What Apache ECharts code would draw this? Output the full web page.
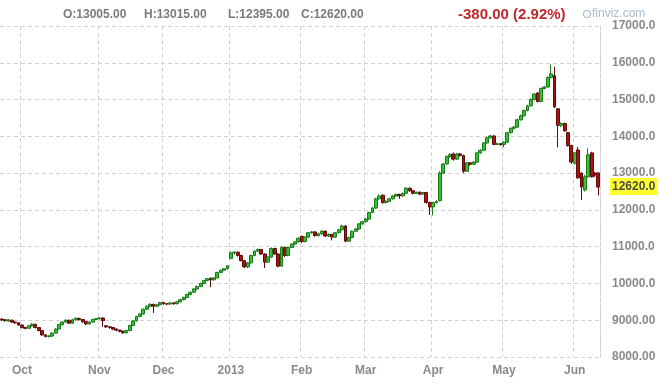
<!DOCTYPE html>
<html><head><meta charset="utf-8">
<script src="https://cdn.jsdelivr.net/npm/echarts@6/dist/echarts.min.js"></script>
<style>html,body{margin:0;padding:0;background:#fff}#c{width:672px;height:386px}</style>
</head><body><div id="c"></div>
<script>
// Month groups of daily bars (first group is late September, unlabeled)
const monthNames = ['Sep', 'Oct', 'Nov', 'Dec', '2013', 'Feb', 'Mar', 'Apr', 'May', 'Jun'];
const barsPerMonth = [6, 23, 19, 20, 21, 19, 20, 21, 21, 8];

// Daily candles: [open, close, low, high]
const ohlc = [
  // Sep
  [9030,9010,8980,9060],[9010,8990,8960,9030],[8980,9010,8960,9030],[9000,8950,8930,9020],[8950,8930,8900,8970],[8930,8870,8850,8950],
  // Oct
  [8870,8800,8780,8890],[8800,8780,8750,8820],[8780,8850,8760,8870],[8850,8890,8830,8920],[8890,8800,8780,8900],
  [8800,8720,8700,8810],[8720,8600,8580,8730],[8600,8560,8530,8620],[8560,8570,8530,8600],[8570,8650,8550,8670],
  [8650,8760,8640,8780],[8760,8880,8750,8900],[8880,8950,8860,8970],[8950,9000,8930,9020],[9000,8920,8900,9010],
  [8920,9010,8900,9040],[9010,9050,8990,9080],[9050,9020,8990,9070],[9020,8960,8930,9030],[8960,8900,8870,8970],
  [8900,8950,8880,8970],[8950,9020,8930,9040],[9020,9040,9000,9060],
  // Nov
  [9040,9060,9020,9080],[9060,8990,8820,9080],[8850,8820,8790,8860],[8820,8800,8770,8840],[8800,8760,8730,8810],
  [8760,8730,8700,8780],[8730,8700,8670,8740],[8700,8660,8630,8710],[8660,8720,8640,8740],[8720,8860,8700,8870],
  [8860,8980,8850,9000],[8980,9100,8970,9120],[9100,9170,9080,9190],[9170,9300,9160,9320],[9300,9380,9280,9400],
  [9380,9430,9360,9460],[9430,9380,9200,9450],[9380,9420,9360,9440],[9420,9480,9400,9500],
  // Dec
  [9480,9450,9420,9500],[9450,9440,9410,9470],[9440,9470,9420,9490],[9470,9450,9420,9490],[9450,9500,9430,9520],
  [9500,9560,9490,9580],[9560,9620,9540,9640],[9620,9700,9600,9720],[9700,9760,9680,9780],[9760,9850,9740,9870],
  [9850,9920,9830,9940],[9920,10000,9900,10020],[10000,10080,9980,10100],[10080,10130,10060,10150],[10140,10100,9900,10160],
  [10100,10150,10080,10170],[10150,10300,10140,10320],[10300,10360,10280,10380],[10360,10400,10340,10420],[10400,10480,10380,10500],
  // Jan 2013
  [10680,10830,10660,10870],[10830,10850,10780,10880],[10850,10760,10730,10870],[10760,10620,10600,10780],[10620,10450,10420,10640],
  [10450,10560,10420,10580],[10560,10760,10540,10780],[10760,10880,10740,10900],[10880,10920,10850,10950],[10920,10800,10780,10940],
  [10800,10580,10420,10820],[10580,10720,10560,10740],[10720,10950,10700,10980],[10950,10800,10780,10970],[10800,10470,10440,10820],
  [10470,10980,10450,11010],[10980,10760,10720,11000],[10760,10980,10740,11000],[10980,11070,10960,11090],[11070,11130,11050,11150],
  [11130,11230,11110,11260],
  // Feb
  [11280,11140,11100,11300],[11140,11260,11120,11280],[11260,11380,11240,11400],[11380,11400,11350,11430],[11400,11300,11270,11420],
  [11300,11350,11280,11380],[11350,11420,11320,11450],[11420,11290,11260,11440],[11290,11330,11260,11360],[11330,11260,11170,11350],
  [11260,11380,11240,11400],[11380,11460,11360,11480],[11460,11560,11440,11600],[11560,11150,11120,11590],[11150,11250,11130,11270],
  [11250,11420,11230,11440],[11420,11480,11400,11500],[11480,11620,11460,11640],[11620,11680,11600,11700],
  // Mar
  [11680,11750,11660,11780],[11750,11930,11730,11950],[11930,12050,11910,12080],[12050,12300,12030,12330],[12300,12380,12280,12420],
  [12400,12200,12170,12420],[12200,12230,12180,12260],[12230,12300,12210,12330],[12300,12380,12280,12400],[12380,12420,12360,12440],
  [12420,12380,12300,12440],[12380,12450,12360,12470],[12450,12590,12430,12620],[12590,12520,12490,12610],[12520,12450,12420,12540],
  [12450,12480,12430,12500],[12480,12430,12400,12500],[12430,12470,12410,12490],[12470,12200,12170,12490],[12200,12080,11860,12220],
  // Apr
  [12080,12200,11850,12220],[12200,12230,12170,12260],[12250,13000,12230,13050],[13000,13250,12980,13280],[13250,13450,13230,13480],
  [13450,13500,13420,13540],[13520,13380,13340,13560],[13380,13520,13360,13550],[13520,13480,13450,13550],[13480,13050,13000,13500],
  [13050,13280,13030,13300],[13280,13240,13200,13300],[13240,13300,13220,13330],[13300,13550,13280,13570],[13550,13620,13530,13650],
  [13620,13820,13600,13840],[13820,13960,13800,13990],[13960,14010,13940,14040],[14010,13780,13760,14030],[13780,13800,13760,13830],
  [13800,13780,13740,13820],
  // May
  [13780,13840,13700,13860],[13840,14100,13820,14120],[14100,14220,14080,14240],[14220,14250,14190,14280],[14250,14450,14230,14480],
  [14450,14560,14430,14590],[14560,14700,14540,14730],[14700,14830,14680,14860],[14830,15000,14810,15030],[15000,15150,14980,15180],
  [15180,14950,14920,15200],[14950,15300,14930,15320],[15300,15340,15280,15370],[15340,15600,15320,15630],[15600,15700,15580,15950],
  [15650,14800,14770,15890],[14750,14300,13700,14760],[14300,14350,14250,14380],[14350,14150,14120,14370],[14100,13750,13720,14120],
  [13750,13300,13250,13770],
  // Jun
  [13270,13550,13230,13570],[13630,12870,12850,13710],[13000,12620,12270,13020],[12540,12900,12500,12950],[12900,13500,12880,13670],
  [13550,12900,12880,13580],[13000,12950,12900,13030],[13005,12620,12395,13015]
];

const yMin = 8000, yMax = 17000, yStep = 1000;
const yTickLabels = {
  17000: '17000.0', 16000: '16000.0', 15000: '15000.0', 14000: '14000.0', 13000: '13000.0',
  12000: '12000.0', 11000: '11000.0', 10000: '10000.0', 9000: '9000.00', 8000: '8000.00'
};
const headerItems = ['O:13005.00', 'H:13015.00', 'L:12395.00', 'C:12620.00'];
const changeText = '-380.00 (2.92%)';
const lastPrice = 12620;
const lastPriceLabel = '12620.0';
const brand = 'finviz.com';

// Build categories from month groups
const categories = [];
const monthStart = {};
monthNames.forEach((m, mi) => {
  for (let k = 0; k < barsPerMonth[mi]; k++) {
    if (k === 0 && mi > 0) monthStart[categories.length] = m;
    categories.push(m + ' ' + (k + 1));
  }
});

const FONT = "'Liberation Sans', Arial, sans-serif";
const gray = '#8a8a8a';
const gridColor = '#d2d2d2';

const chart = echarts.init(document.getElementById('c'), null, {renderer: 'canvas'});
const headerX = [63, 144, 228, 301];
const baseGraphic = [
  ...headerItems.map((t, i) => ({
    type: 'text', left: headerX[i], top: 9,
    style: {text: t, fill: '#7a7a7a', font: "bold 12px " + FONT}
  })),
  {type: 'text', left: 458, top: 7,
    style: {text: changeText, fill: '#c0272d', font: "bold 15px " + FONT}},
  {type: 'circle', shape: {cx: 587, cy: 14, r: 3.5},
    style: {fill: 'none', stroke: '#a9bccf', lineWidth: 1.2}},
  {type: 'text', left: 592, top: 8,
    style: {text: brand, fill: '#a9bccf', font: "12px " + FONT}}
];
chart.setOption({
  animation: false,
  backgroundColor: '#ffffff',
  grid: {left: 0, top: 26, width: 600, height: 331, containLabel: false},
  xAxis: {
    type: 'category',
    data: categories,
    boundaryGap: true,
    axisLine: {show: false},
    axisTick: {show: false},
    axisLabel: {
      interval: (i) => monthStart[i] !== undefined,
      formatter: (v, i) => monthStart[i] || '',
      color: gray, fontFamily: FONT, fontWeight: 'bold', fontSize: 12, margin: 8
    },
    splitLine: {
      show: true,
      interval: (i) => monthStart[i] !== undefined,
      lineStyle: {color: gridColor, type: [4, 3], width: 1}
    }
  },
  yAxis: {
    type: 'value',
    position: 'right',
    min: yMin, max: yMax, interval: yStep,
    axisLine: {show: true, lineStyle: {color: gridColor, type: [4, 3], width: 1}},
    axisTick: {show: false},
    axisLabel: {
      formatter: (v) => yTickLabels[v] || '',
      color: gray, fontFamily: FONT, fontWeight: 'bold', fontSize: 12, margin: 12
    },
    splitLine: {show: true, lineStyle: {color: gridColor, type: [4, 3], width: 1}}
  },
  series: [{
    type: 'candlestick',
    data: ohlc,
    barWidth: 3.4,
    itemStyle: {
      color: '#36c036', borderColor: '#1a7a1a',
      color0: '#a81414', borderColor0: '#5e0a0a', borderWidth: 1
    }
  }],
  graphic: baseGraphic
});

// Last-price tag placed through the value axis scale
const tagY = chart.convertToPixel({yAxisIndex: 0}, lastPrice);
chart.setOption({
  graphic: baseGraphic.concat([{
    type: 'text', left: 610, top: tagY - 9,
    style: {
      text: lastPriceLabel, fill: '#4a4a4a', font: "bold 12px " + FONT,
      backgroundColor: '#ffff2e', padding: [3, 2, 2, 2]
    }
  }])
});
</script>
</body></html>
